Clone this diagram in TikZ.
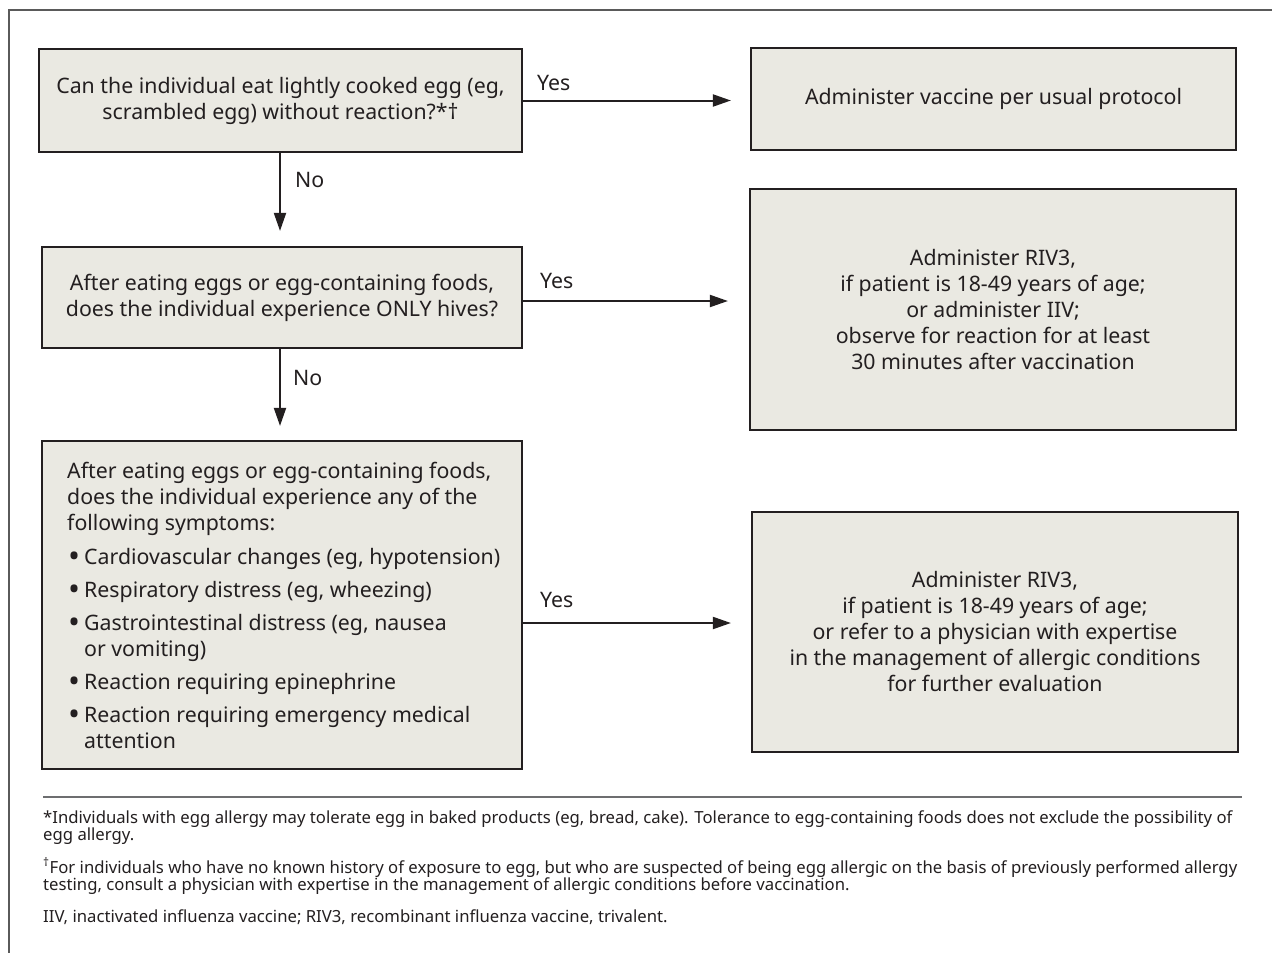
\documentclass[tikz,border=0pt]{standalone}
\usepackage{fontspec}
\setmainfont{Noto Sans}
\usetikzlibrary{arrows.meta}
\definecolor{boxfill}{HTML}{EAE9E2}
\definecolor{ink}{HTML}{231F20}
\definecolor{framegray}{HTML}{5A5A5A}
\definecolor{rulegray}{HTML}{6D6E70}
\newcommand\boxfont{\fontsize{21.3}{26}\selectfont}
\newcommand\notefont{\fontsize{16.7}{17}\selectfont}
\newcommand\bul{\makebox[17pt][l]{\hspace*{1pt}\raisebox{-3.2pt}{\scalebox{1.5}{•}}}}
\begin{document}
\begin{tikzpicture}[x=1pt,y=-1pt,
  box/.style={draw=ink, line width=2.2pt, fill=boxfill, inner sep=0pt,
    text=ink, font=\boxfont, align=center},
  arr/.style={draw=ink, line width=2pt, -{Triangle[length=18pt,width=12pt]}},
  lbl/.style={anchor=base west, inner sep=0pt, text=ink, font=\boxfont},
  note/.style={anchor=base west, inner sep=0pt, text=ink, font=\notefont},
]
\useasboundingbox (0,0) rectangle (1272,953);
\fill[white] (0,0) rectangle (1272,953);
\draw[framegray, line width=1.2pt] (9,953) -- (9,10) -- (1272,10);

% left column
\node[box, minimum width=483pt, minimum height=103pt] (b1) at (280.5,100.5)
  {Can the individual eat lightly cooked egg (eg,\\ scrambled egg) without reaction?*†};
\node[box, minimum width=480pt, minimum height=101pt] (b2) at (282,297.5)
  {After eating eggs or egg-containing foods,\\ does the individual experience ONLY hives?};
\node[box, minimum width=480pt, minimum height=328pt] (b3) at (282,605) {};
\node[anchor=west, inner sep=0pt, text=ink, font=\boxfont, align=left] (t3) at (67,605)
  {After eating eggs or egg-containing foods,\\
   does the individual experience any of the\\
   following symptoms:\\[8pt]
   \bul Cardiovascular changes (eg, hypotension)\\[7pt]
   \bul Respiratory distress (eg, wheezing)\\[7pt]
   \bul Gastrointestinal distress (eg, nausea\\
   \hspace*{17pt}or vomiting)\\[7pt]
   \bul Reaction requiring epinephrine\\[7pt]
   \bul Reaction requiring emergency medical\\
   \hspace*{17pt}attention};

% right column
\node[box, minimum width=485pt, minimum height=102pt] (r1) at (993.5,99)
  {Administer vaccine per usual protocol};
\node[box, minimum width=486pt, minimum height=241pt] (r2) at (993,309.5)
  {Administer RIV3,\\ if patient is 18-49 years of age;\\ or administer IIV;\\
   observe for reaction for at least\\ 30 minutes after vaccination};
\node[box, minimum width=486pt, minimum height=240pt] (r3) at (995,632)
  {Administer RIV3,\\ if patient is 18-49 years of age;\\ or refer to a physician with expertise\\
   in the management of allergic conditions\\ for further evaluation};

% connectors
\draw[arr, shorten >=15pt] (b1.south -| 280,0) -- (b2.north -| 280,0);
\draw[arr, shorten >=14pt] (b2.south -| 280,0) -- (b3.north -| 280,0);
\draw[arr, shorten >=19pt] (b1.east) -- (r1.west |- b1.east);
\draw[arr, shorten >=21pt] ([yshift=-3.5pt]b2.east) -- ([yshift=-3.5pt]b2.east -| r2.west);
\draw[arr, shorten >=20pt] ([yshift=-18pt]b3.east) -- ([yshift=-18pt]b3.east -| r3.west);

% labels
\node[lbl] (y1) at (537,90) {Yes};
\node[lbl] (y2) at (540,288) {Yes};
\node[lbl] (y3) at (540,607) {Yes};
\node[lbl] (n1) at (295,187) {No};
\node[lbl] (n2) at (293,385) {No};

% footnotes
\draw[rulegray, line width=1.5pt] (43,797) -- (1242,797);
\node[note] (f1a) at (43,823)
  {*Individuals with egg allergy may tolerate egg in baked products (eg, bread, cake). Tolerance to egg-containing foods does not exclude the possibility of};
\node[note] (f1b) at (43,840) {egg allergy.};
\node[note] (f2a) at (43,873)
  {\textsuperscript{†}For individuals who have no known history of exposure to egg, but who are suspected of being egg allergic on the basis of previously performed allergy};
\node[note] (f2b) at (43,890)
  {testing, consult a physician with expertise in the management of allergic conditions before vaccination.};
\node[note] (f3) at (43,922)
  {IIV, inactivated influenza vaccine; RIV3, recombinant influenza vaccine, trivalent.};
\end{tikzpicture}
\end{document}
